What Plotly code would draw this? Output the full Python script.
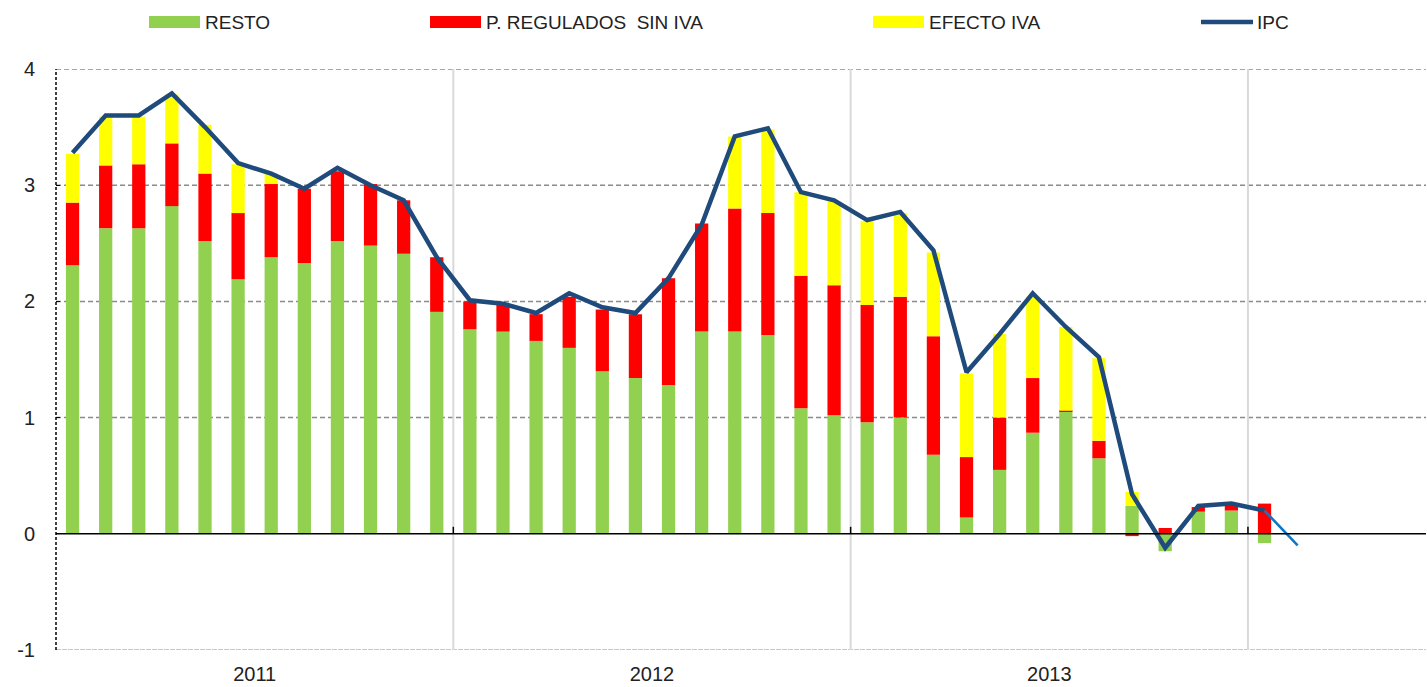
import plotly.graph_objects as go

# Meses (ene-2011 a feb-2014)
meses = [
    "2011-01", "2011-02", "2011-03", "2011-04", "2011-05", "2011-06",
    "2011-07", "2011-08", "2011-09", "2011-10", "2011-11", "2011-12",
    "2012-01", "2012-02", "2012-03", "2012-04", "2012-05", "2012-06",
    "2012-07", "2012-08", "2012-09", "2012-10", "2012-11", "2012-12",
    "2013-01", "2013-02", "2013-03", "2013-04", "2013-05", "2013-06",
    "2013-07", "2013-08", "2013-09", "2013-10", "2013-11", "2013-12",
    "2014-01", "2014-02",
]
anios = ["2011", "2012", "2013"]
ticks_y = [-1, 0, 1, 2, 3, 4]

resto = [
    2.31, 2.63, 2.63, 2.82, 2.52, 2.19, 2.38, 2.33, 2.52, 2.48, 2.41, 1.91,
    1.76, 1.74, 1.66, 1.60, 1.40, 1.34, 1.28, 1.74, 1.74, 1.71, 1.08, 1.02,
    0.96, 1.00, 0.68, 0.14, 0.55, 0.87, 1.05, 0.65, 0.24, -0.15, 0.19, 0.20,
    -0.08,
]
regulados = [
    0.54, 0.54, 0.55, 0.54, 0.58, 0.57, 0.63, 0.64, 0.60, 0.53, 0.46, 0.47,
    0.24, 0.24, 0.23, 0.44, 0.53, 0.55, 0.92, 0.93, 1.06, 1.05, 1.14, 1.12,
    1.01, 1.04, 1.02, 0.52, 0.45, 0.47, 0.01, 0.15, -0.02, 0.05, 0.04, 0.04,
    0.26,
]
efecto_iva = [
    0.42, 0.42, 0.41, 0.42, 0.42, 0.42, 0.09, 0.00, 0.00, 0.00, 0.00, 0.00,
    0.00, 0.00, 0.00, 0.00, 0.00, 0.00, 0.00, 0.00, 0.62, 0.72, 0.72, 0.72,
    0.72, 0.72, 0.72, 0.72, 0.72, 0.70, 0.72, 0.71, 0.12, 0.00, 0.00, 0.00,
    0.00,
]
ipc = [
    3.28, 3.60, 3.60, 3.79, 3.50, 3.19, 3.10, 2.97, 3.15, 3.00, 2.87, 2.38,
    2.01, 1.98, 1.90, 2.07, 1.95, 1.90, 2.20, 2.66, 3.42, 3.49, 2.94, 2.87,
    2.70, 2.77, 2.44, 1.39, 1.72, 2.07, 1.78, 1.52, 0.34, -0.12, 0.24, 0.26,
    0.20,
]
ipc_prevision = [0.20, -0.10]  # ene-2014, feb-2014

pos = list(range(len(meses)))
n = len(resto)

VERDE = "#92D050"
ROJO = "#FF0000"
AMARILLO = "#FFFF00"
AZUL = "#1F4A7C"
AZUL_CLARO = "#0A78C8"
FUENTE = "Liberation Sans, Arial, sans-serif"

fig = go.Figure()

for nombre, vals, color in [
    ("RESTO", resto, VERDE),
    ("P. REGULADOS  SIN IVA", regulados, ROJO),
    ("EFECTO IVA", efecto_iva, AMARILLO),
]:
    fig.add_trace(go.Bar(
        x=pos[:n], y=vals, name=nombre, width=0.4,
        marker=dict(color=color, line=dict(width=0)),
    ))

fig.add_trace(go.Scatter(
    x=pos[:n], y=ipc, name="IPC", mode="lines",
    line=dict(color=AZUL, width=4.5),
))
fig.add_trace(go.Scatter(
    x=pos[n - 1:n + 1], y=ipc_prevision, mode="lines", showlegend=False,
    line=dict(color=AZUL_CLARO, width=2.5),
))

# posiciones de los años
centros, limites = [], []
for a in anios + ["2014"]:
    idx = [i for i, m in enumerate(meses) if m.startswith(a)]
    limites.append(idx[0] - 0.5)
    if a in anios:
        centros.append((idx[0] + idx[-1]) / 2)

shapes = []
for x in limites[1:]:
    shapes.append(dict(type="line", xref="x", yref="y", x0=x, x1=x, y0=-1, y1=4,
                       line=dict(color="#D9D9D9", width=2), layer="below"))
    shapes.append(dict(type="line", xref="x", yref="y", x0=x, x1=x, y0=0, y1=0.06,
                       line=dict(color="black", width=1.5), layer="above"))
for y in [1, 2, 3, 4]:
    shapes.append(dict(type="line", xref="paper", yref="y", x0=0, x1=1, y0=y, y1=y,
                       line=dict(color="#8A8A8A", width=1.5, dash="5px,3px"), layer="below"))
shapes.append(dict(type="line", xref="paper", yref="y", x0=0, x1=1, y0=-1, y1=-1,
                   line=dict(color="#C8C8C8", width=2, dash="5px,1px"), layer="below"))
shapes.append(dict(type="line", xref="paper", yref="y", x0=0, x1=1, y0=0, y1=0,
                   line=dict(color="black", width=1.5), layer="above"))
shapes.append(dict(type="line", xref="paper", yref="y", x0=0, x1=0, y0=-1, y1=4,
                   line=dict(color="black", width=1.5, dash="3px,2px"), layer="above"))

# leyenda manual (muestras anchas)
W, L, T, H = 1427, 56, 69, 581
def xp(px):
    return (px - L) / (W - L - 1)
def yp(py):
    return (T + H - py) / H

annotations = []
leyenda = [("RESTO", VERDE, 149, "bar"), ("P. REGULADOS  SIN IVA", ROJO, 430, "bar"),
           ("EFECTO IVA", AMARILLO, 873, "bar"), ("IPC", AZUL, 1201, "line")]
for texto, color, x0, tipo in leyenda:
    if tipo == "bar":
        shapes.append(dict(type="rect", xref="paper", yref="paper",
                           x0=xp(x0), x1=xp(x0 + 51), y0=yp(28), y1=yp(16),
                           fillcolor=color, line=dict(width=0)))
    else:
        shapes.append(dict(type="line", xref="paper", yref="paper",
                           x0=xp(x0), x1=xp(x0 + 52), y0=yp(22), y1=yp(22),
                           line=dict(color=color, width=4.5)))
    annotations.append(dict(text=texto, xref="paper", yref="paper",
                            x=xp(x0 + 54), y=yp(22), xanchor="left", yanchor="middle",
                            showarrow=False, font=dict(size=19, color="#222222", family=FUENTE)))

fig.update_layout(
    width=1427, height=687,
    barmode="relative",
    plot_bgcolor="white", paper_bgcolor="white",
    margin=dict(l=56, r=1, t=69, b=37),
    showlegend=False,
    font=dict(family=FUENTE, size=20, color="#222222"),
    xaxis=dict(
        range=[-0.5, -0.5 + (W - L - 1) / 33.11],
        tickvals=centros, ticktext=anios, ticks="",
        showgrid=False, zeroline=False, showline=False,
        ticklabelstandoff=10, automargin=False,
    ),
    yaxis=dict(
        range=[-1, 4], tickvals=ticks_y, ticktext=[str(v) for v in ticks_y],
        showgrid=False, zeroline=False, showline=False,
        ticks="inside", ticklen=4, tickcolor="black",
        ticklabelstandoff=20, automargin=False,
    ),
    shapes=shapes,
    annotations=annotations,
)

fig.write_html("out.html", config={"displayModeBar": False},
               post_script="document.body.style.margin='0';document.body.style.overflow='hidden';")
